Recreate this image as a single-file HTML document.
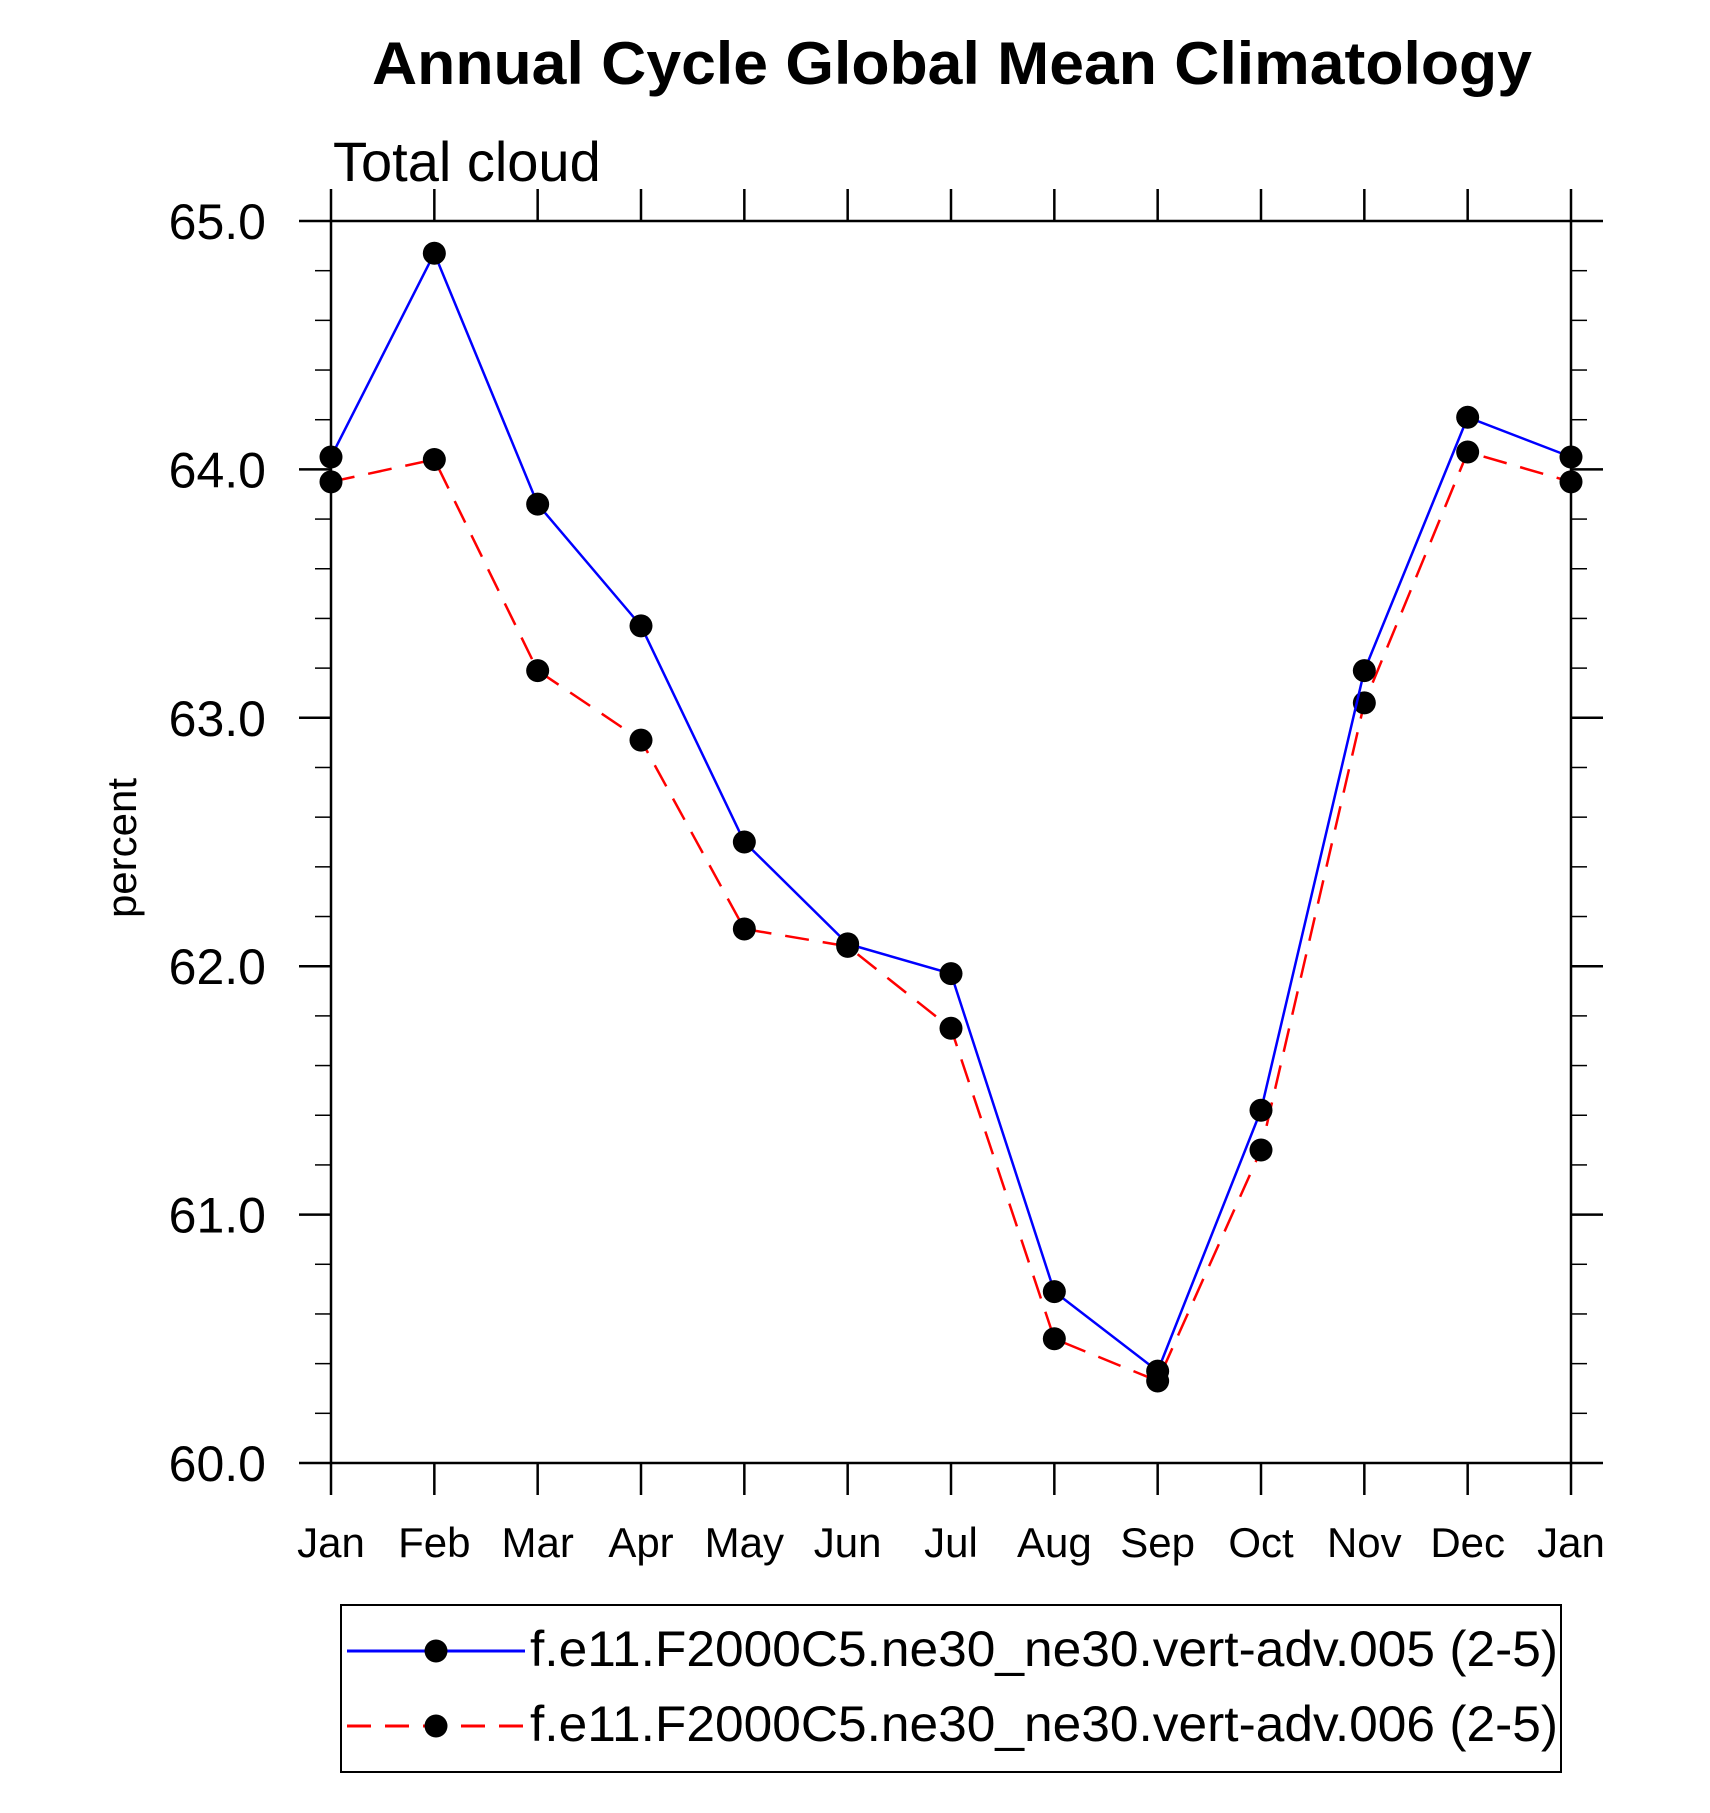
<!DOCTYPE html>
<html><head><meta charset="utf-8"><style>
html,body{margin:0;padding:0;background:#fff}
svg{display:block}
text{font-family:"Liberation Sans",Arial,sans-serif;fill:#000}
</style></head><body>
<svg id="chart" width="1710" height="1813" viewBox="0 0 1710 1813" xmlns="http://www.w3.org/2000/svg">
<text x="952" y="84" font-size="60" font-weight="bold" text-anchor="middle" textLength="1160" lengthAdjust="spacingAndGlyphs">Annual Cycle Global Mean Climatology</text>
<text x="333" y="181" font-size="56">Total cloud</text>
<text transform="translate(136,848) rotate(-90)" font-size="42" text-anchor="middle">percent</text>
<g id="axes"></g>
<g id="series"></g>
<rect x="341" y="1605" width="1220" height="167" fill="none" stroke="#000" stroke-width="2"/>
<g>
<line x1="347" y1="1651" x2="525" y2="1651" stroke="#0000ff" stroke-width="3"/>
<circle cx="436" cy="1651" r="11.5" fill="#000"/>
<text x="530" y="1666" font-size="50" textLength="1028" lengthAdjust="spacingAndGlyphs">f.e11.F2000C5.ne30_ne30.vert-adv.005 (2-5)</text>
</g>
<g>
<line x1="347" y1="1726" x2="525" y2="1726" stroke="#ff0000" stroke-width="3" stroke-dasharray="24,14"/>
<circle cx="436" cy="1726" r="11.5" fill="#000"/>
<text x="530" y="1741" font-size="50" textLength="1028" lengthAdjust="spacingAndGlyphs">f.e11.F2000C5.ne30_ne30.vert-adv.006 (2-5)</text>
</g>
</svg>
<script>
const months = ["Jan","Feb","Mar","Apr","May","Jun","Jul","Aug","Sep","Oct","Nov","Dec","Jan"];
const series005 = [64.05,64.87,63.86,63.37,62.50,62.09,61.97,60.69,60.37,61.42,63.19,64.21,64.05];
const series006 = [63.95,64.04,63.19,62.91,62.15,62.08,61.75,60.50,60.33,61.26,63.06,64.07,63.95];
const yTickLabels = ["60.0","61.0","62.0","63.0","64.0","65.0"];
const yMin = 60, yMax = 65;

const L=331,R=1571,T=221,B=1463;
const NS="http://www.w3.org/2000/svg";
function xs(i){return L+(R-L)*i/(months.length-1);}
function ys(v){return B-(B-T)*(v-yMin)/(yMax-yMin);}
function mk(tag,attrs,parent){const e=document.createElementNS(NS,tag);for(const k in attrs)e.setAttribute(k,attrs[k]);parent.appendChild(e);return e;}
const ax=document.getElementById('axes');
const frame=mk('rect',{x:L,y:T,width:R-L,height:B-T,fill:'none',stroke:'#000','stroke-width':2.5},ax);


months.forEach((m,i)=>{
  const x=xs(i);
  const t1=mk('line',{x1:x,y1:B,x2:x,y2:B+32,stroke:'#000','stroke-width':2.5},ax);
  
  
  const t2=mk('line',{x1:x,y1:T,x2:x,y2:T-32,stroke:'#000','stroke-width':2.5},ax);
  
  
  const lb=mk('text',{x:x,y:1557,'font-size':42,'text-anchor':'middle'},ax);
  lb.textContent=m;
  
  
});
for(let k=0;k<=25;k++){
  const v=yMin+k*0.2, y=ys(v), major=(k%5===0), len=major?32:16;
  const a=mk('line',{x1:L,y1:y,x2:L-len,y2:y,stroke:'#000','stroke-width':major?2.5:1.5},ax);
  
  
  const b=mk('line',{x1:R,y1:y,x2:R+len,y2:y,stroke:'#000','stroke-width':major?2.5:1.5},ax);
  
  
}
yTickLabels.forEach((s,i)=>{
  const lb=mk('text',{x:266,y:ys(parseFloat(s))+18,'font-size':50,'text-anchor':'end'},ax);
  lb.textContent=s;
  
  
});
const sg=document.getElementById('series');
function draw(vals,color,dash,name){
  const pts=vals.map((v,i)=>xs(i)+','+ys(v)).join(' ');
  const pl=mk('polyline',{points:pts,fill:'none',stroke:color,'stroke-width':2.5},sg);
  if(dash)pl.setAttribute('stroke-dasharray',dash);
  
  
  vals.forEach((v,i)=>{
    const c=mk('circle',{cx:xs(i),cy:ys(v),r:11.5,fill:'#000'},sg);
    
    
  });
}
draw(series006,'#ff0000','24,14','series-006');
draw(series005,'#0000ff',null,'series-005');
</script>
</body></html>
